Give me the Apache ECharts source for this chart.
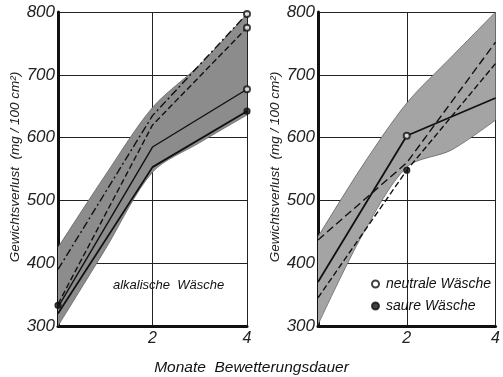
<!DOCTYPE html>
<html><head><meta charset="utf-8">
<script src="https://cdn.jsdelivr.net/npm/echarts@6/dist/echarts.min.js"></script>
<style>html,body{margin:0;padding:0;background:#fff}#c{width:503px;height:377px}</style>
</head><body><div id="c"></div>
<script>
// x positions (months of weathering)
const months = [0, 2, 4];
const bandX = ['0', '1', '2', '3', '4'];
const yTicks = [300, 400, 500, 600, 700, 800];
const xTicks = [2, 4];
// left panel: alkalische Wäsche
const alkBandLow  = [300, 422, 545, 592, 636];
const alkBandHigh = [425, 540, 648, 716, 797];
const alkDashDot  = [390, 635, 797];
const alkDashed   = [335, 620, 775];
const alkSolidA   = [330, 585, 677];
const alkSolidB   = [320, 553, 642];
const alkNeutralPts = [[4, 797], [4, 775], [4, 677]];
const alkSaurePts   = [[4, 642], [0, 333]];
// right panel: neutrale / saure Wäsche
const neuBandLow  = [302, 445, 553, 580, 628];
const neuBandHigh = [442, 555, 655, 728, 800];
const neuSolid    = [370, 603, 663];
const neuDashedA  = [437, 560, 752];
const neuDashedB  = [345, 548, 718];
const neuNeutralPts = [[2, 603]];
const neuSaurePts   = [[2, 548]];

const FONT = 'Liberation Sans';
const pairs = (xs, ys) => xs.map((x, i) => [x, ys[i]]);
const diff = (hi, lo) => hi.map((v, i) => v - lo[i]);

function xAx(gi) {
  return {
    type: 'value', gridIndex: gi, min: 0, max: 4, interval: 2,
    axisLine: {show: true, onZero: false, lineStyle: {color: '#111', width: 3}},
    axisTick: {show: false},
    splitLine: {show: true, lineStyle: {color: '#222', width: 1}},
    axisLabel: {formatter: v => xTicks.includes(v) ? String(v) : '', fontFamily: FONT,
      fontStyle: 'italic', fontSize: 16, color: '#222', margin: 5}
  };
}
function xCat(gi) {
  return {type: 'category', gridIndex: gi, data: bandX, boundaryGap: false, show: false,
    axisLine: {show: false}, splitLine: {show: false}, axisTick: {show: false}, axisLabel: {show: false}};
}
function yAx(gi) {
  return {
    type: 'value', gridIndex: gi, min: 300, max: 800, interval: 100,
    axisLine: {show: true, lineStyle: {color: '#111', width: 3}},
    axisTick: {show: false},
    splitLine: {show: true, lineStyle: {color: '#222', width: 1}},
    axisLabel: {formatter: v => yTicks.includes(v) ? String(v) : '', fontFamily: FONT,
      fontStyle: 'italic', fontSize: 17, color: '#222', margin: 3},
    name: 'Gewichtsverlust  (mg / 100 cm²)', nameLocation: 'middle', nameRotate: 90, nameGap: 33,
    nameTextStyle: {fontFamily: FONT, fontStyle: 'italic', fontSize: 13.5, color: '#222', padding: [0, 0, 0, 4]}
  };
}
function band(gi, lo, hi, color) {
  const st = 'band' + gi;
  const xi = gi + 2;
  return [
    {type: 'line', xAxisIndex: xi, yAxisIndex: gi, stack: st, data: lo, smooth: 0.3,
     showSymbol: false, silent: true, lineStyle: {color: '#666', width: 0.8}, areaStyle: {opacity: 0}, z: 1},
    {type: 'line', xAxisIndex: xi, yAxisIndex: gi, stack: st, data: diff(hi, lo), smooth: 0.3,
     showSymbol: false, silent: true, lineStyle: {color: '#666', width: 0.8}, areaStyle: {color: color, opacity: 1}, z: 1}
  ];
}
function ln(gi, ys, type, w) {
  return {type: 'line', xAxisIndex: gi, yAxisIndex: gi, data: pairs(months, ys), showSymbol: false,
    silent: true, lineStyle: {color: '#111', width: w || 1.4, type: type}, z: 3};
}
function pts(gi, name, data, filled) {
  return {type: 'scatter', name: name, xAxisIndex: gi, yAxisIndex: gi, data: data,
    symbol: filled ? 'circle' : 'emptyCircle', symbolSize: 6,
    itemStyle: {color: '#111', borderColor: '#111', borderWidth: 1.2}, z: 5};
}

const chart = echarts.init(document.getElementById('c'), null, {renderer: 'canvas'});
chart.setOption({
  animation: false,
  backgroundColor: '#fff',
  grid: [
    {left: 58, top: 12, width: 189, height: 314},
    {left: 318, top: 12, width: 188, height: 314}
  ],
  xAxis: [xAx(0), xAx(1), xCat(0), xCat(1)],
  yAxis: [yAx(0), yAx(1)],
  title: {text: 'Monate  Bewetterungsdauer', left: 'center', top: 355,
    textStyle: {fontFamily: FONT, fontStyle: 'italic', fontWeight: 'normal', fontSize: 15.5, color: '#111'}},
  legend: {orient: 'vertical', left: 366, top: 272, itemWidth: 7, itemHeight: 7, itemGap: 8,
    data: [{name: 'neutrale Wäsche', icon: 'emptyCircle'}, {name: 'saure Wäsche', icon: 'circle'}],
    textStyle: {fontFamily: FONT, fontStyle: 'italic', fontSize: 14, color: '#111', padding: [0, 0, 0, 2]},
    selectedMode: false},
  graphic: [
    {type: 'text', left: 113, top: 279, style: {text: 'alkalische  Wäsche', fontFamily: FONT,
      fontStyle: 'italic', fontSize: 13, fill: '#111'}}
  ],
  series: [
    ...band(0, alkBandLow, alkBandHigh, '#8c8c8c'),
    ...band(1, neuBandLow, neuBandHigh, '#a4a4a4'),
    ln(0, alkDashDot, [8, 3, 2, 3]),
    ln(0, alkDashed, [6, 3]),
    ln(0, alkSolidA, 'solid'),
    ln(0, alkSolidB, 'solid', 1.8),
    ln(1, neuSolid, 'solid', 1.8),
    ln(1, neuDashedA, [8, 4]),
    ln(1, neuDashedB, [6, 3]),
    pts(0, 'neutrale Wäsche', alkNeutralPts, false),
    pts(0, 'saure Wäsche', alkSaurePts, true),
    pts(1, 'neutrale Wäsche', neuNeutralPts, false),
    pts(1, 'saure Wäsche', neuSaurePts, true)
  ]
});
</script></body></html>
